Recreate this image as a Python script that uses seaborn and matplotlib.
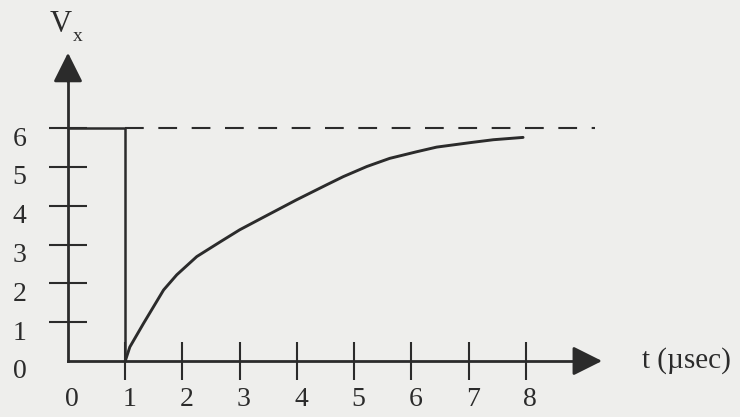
import matplotlib
matplotlib.use("Agg")
import matplotlib.pyplot as plt
import matplotlib.transforms as mtransforms
import seaborn as sns
import pandas as pd

# values
t_step = [0, 1, 1]
v_step = [6, 6, 0]
t_final = [1, 9.2]
v_final = [6, 6]
t_curve = [1.0, 1.08, 1.32, 1.67, 1.90, 2.25, 2.66, 3.00, 3.41, 3.99, 4.52,
           4.81, 5.22, 5.62, 6.09, 6.44, 7.05, 7.43, 7.95]
v_curve = [0.0, 0.36, 0.97, 1.83, 2.22, 2.69, 3.07, 3.38, 3.70, 4.15, 4.54,
           4.75, 5.01, 5.22, 5.39, 5.51, 5.63, 5.70, 5.76]
x_ticks = [0, 1, 2, 3, 4, 5, 6, 7, 8]
y_ticks = [0, 1, 2, 3, 4, 5, 6]

sns.set_style("white")
plt.rcParams["font.family"] = ["Liberation Serif", "DejaVu Serif"]

ink = "#2b2b2b"
paper = "#eeeeec"

fig = plt.figure(figsize=(7.4, 4.17), dpi=100, facecolor=paper)
ax = fig.add_axes([0, 0, 1, 1], facecolor=paper)

curve = pd.DataFrame({"t": t_curve, "v": v_curve})
sns.lineplot(data=curve, x="t", y="v", color=ink, linewidth=2.1, ax=ax,
             estimator=None, errorbar=None)
sns.lineplot(x=t_step, y=v_step, sort=False, estimator=None, errorbar=None,
             color=ink, linewidth=1.8, ax=ax)
sns.lineplot(x=t_final, y=v_final, color=ink, linewidth=1.5, ax=ax,
             estimator=None, errorbar=None, linestyle=(0, (9, 7)))
ax.set(xlabel="", ylabel="")

ax.set_xlim(-1.188, 11.74)
ax.set_ylim(-1.443, 9.30)

# axes through the origin, drawn as arrows
for side in ["top", "right"]:
    ax.spines[side].set_visible(False)
ax.spines["left"].set_position(("data", 0))
ax.spines["bottom"].set_position(("data", 0))
ax.spines["left"].set_bounds(0, 7.4)
ax.spines["bottom"].set_bounds(0, 9.0)
for side in ["left", "bottom"]:
    ax.spines[side].set_color(ink)
    ax.spines[side].set_linewidth(2.0)

arrow = dict(arrowstyle="-|>,head_length=0.4,head_width=0.2", mutation_scale=45,
             color=ink, lw=2.0, shrinkA=0, shrinkB=0)
ax.annotate("", xy=(0, 7.94), xytext=(0, 7.2), arrowprops=arrow)
ax.annotate("", xy=(9.33, 0), xytext=(8.9, 0), arrowprops=arrow)

ax.set_xticks(x_ticks)
ax.set_yticks(y_ticks)
ax.set_xticklabels([str(v) for v in x_ticks])
ax.set_yticklabels([str(v) for v in y_ticks])
ax.tick_params(axis="both", direction="inout", length=28, width=1.5, color=ink,
               labelsize=20, labelcolor=ink, bottom=True, left=True)
ax.tick_params(axis="x", pad=5)
ax.tick_params(axis="y", pad=16)
ax.xaxis.get_major_ticks()[0].tick1line.set_visible(False)
ax.yaxis.get_major_ticks()[0].tick1line.set_visible(False)

# labels in the scan sit slightly right of / below their ticks
for lab in ax.get_xticklabels():
    lab.set_transform(lab.get_transform() +
                      mtransforms.ScaledTranslation(4 / 100, 0, fig.dpi_scale_trans))
for lab in ax.get_yticklabels():
    lab.set_transform(lab.get_transform() +
                      mtransforms.ScaledTranslation(0, -8 / 100, fig.dpi_scale_trans))

ax.text(-0.32, 8.47, "V", fontsize=22, color=ink, ha="left", va="baseline")
ax.text(0.09, 8.57, "x", fontsize=14, color=ink, ha="left", va="top")
ax.text(10.03, 0.0, "t (\u00b5sec)", fontsize=21, color=ink, ha="left", va="center")

fig.savefig("out.png", dpi=100, facecolor=paper)
